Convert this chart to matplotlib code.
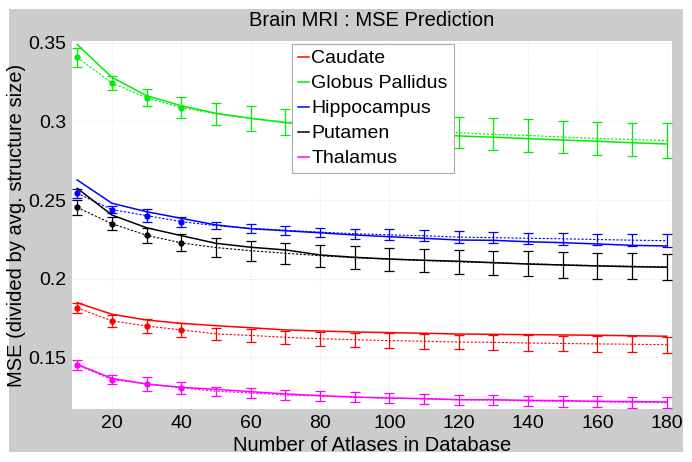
import matplotlib.pyplot as plt
from matplotlib.patches import Rectangle

plt.rcParams['font.family'] = ['Liberation Sans', 'DejaVu Sans']

atlases = [10, 20, 30, 40, 50, 60, 70, 80, 90, 100, 110, 120, 130, 140, 150, 160, 170, 180]

names = ['Caudate', 'Globus Pallidus', 'Hippocampus', 'Putamen', 'Thalamus']
colors = ['#ff0000', '#00ee00', '#0000ff', '#000000', '#ff00ff']

# predicted curves (solid)
pred_caudate = [0.1847, 0.1774, 0.1737, 0.1716, 0.1701, 0.1688, 0.1674, 0.1667, 0.1661,
                0.1657, 0.1653, 0.1648, 0.1646, 0.1644, 0.1642, 0.1640, 0.1637, 0.1634]
pred_globus = [0.3490, 0.3281, 0.3164, 0.3100, 0.3052, 0.3020, 0.2993, 0.2972, 0.2953,
               0.2938, 0.2922, 0.2908, 0.2900, 0.2891, 0.2882, 0.2874, 0.2865, 0.2857]
pred_hippo = [0.2628, 0.2480, 0.2426, 0.2384, 0.2342, 0.2318, 0.2305, 0.2292, 0.2278,
              0.2267, 0.2257, 0.2246, 0.2244, 0.2235, 0.2229, 0.2221, 0.2212, 0.2208]
pred_putamen = [0.2575, 0.2405, 0.2324, 0.2274, 0.2225, 0.2200, 0.2183, 0.2151, 0.2136,
                0.2125, 0.2117, 0.2111, 0.2102, 0.2093, 0.2087, 0.2081, 0.2076, 0.2073]
pred_thalamus = [0.1455, 0.1366, 0.1330, 0.1309, 0.1296, 0.1281, 0.1267, 0.1256, 0.1247,
                 0.1241, 0.1237, 0.1230, 0.1230, 0.1226, 0.1224, 0.1220, 0.1218, 0.1216]

# measured means (dotted) and error bars
mean_caudate = [0.1814, 0.1732, 0.1699, 0.1674, 0.1649, 0.1639, 0.1627, 0.1618, 0.1612,
                0.1606, 0.1602, 0.1597, 0.1595, 0.1591, 0.1588, 0.1585, 0.1583, 0.1580]
mean_globus = [0.3408, 0.3245, 0.3151, 0.3088, 0.3048, 0.3020, 0.2997, 0.2978, 0.2962,
               0.2948, 0.2938, 0.2929, 0.2918, 0.2911, 0.2901, 0.2892, 0.2885, 0.2879]
mean_hippo = [0.2543, 0.2440, 0.2401, 0.2363, 0.2337, 0.2320, 0.2308, 0.2296, 0.2286,
              0.2279, 0.2273, 0.2265, 0.2261, 0.2257, 0.2254, 0.2249, 0.2245, 0.2242]
mean_putamen = [0.2453, 0.2350, 0.2276, 0.2228, 0.2198, 0.2178, 0.2162, 0.2146, 0.2133,
                0.2124, 0.2116, 0.2107, 0.2101, 0.2095, 0.2088, 0.2083, 0.2079, 0.2074]
mean_thalamus = [0.1451, 0.1358, 0.1331, 0.1305, 0.1284, 0.1273, 0.1260, 0.1254, 0.1246,
                 0.1240, 0.1235, 0.1230, 0.1228, 0.1222, 0.1220, 0.1217, 0.1214, 0.1211]

err_caudate = [0.0032, 0.0037, 0.0043, 0.0042, 0.0039, 0.0041, 0.0042, 0.0045, 0.0045,
               0.0047, 0.0047, 0.0047, 0.0049, 0.0049, 0.0050, 0.0051, 0.0051, 0.0051]
err_globus = [0.0061, 0.0045, 0.0055, 0.0066, 0.0072, 0.0078, 0.0083, 0.0088, 0.0091,
              0.0094, 0.0097, 0.0100, 0.0101, 0.0103, 0.0104, 0.0106, 0.0107, 0.0109]
err_hippo = [0.0030, 0.0023, 0.0043, 0.0032, 0.0023, 0.0028, 0.0030, 0.0029, 0.0033,
             0.0035, 0.0035, 0.0036, 0.0036, 0.0036, 0.0037, 0.0037, 0.0039, 0.0040]
err_putamen = [0.0045, 0.0042, 0.0048, 0.0054, 0.0062, 0.0064, 0.0068, 0.0070, 0.0073,
               0.0074, 0.0074, 0.0075, 0.0077, 0.0080, 0.0082, 0.0083, 0.0083, 0.0083]
err_thalamus = [0.0030, 0.0027, 0.0045, 0.0037, 0.0030, 0.0030, 0.0032, 0.0032, 0.0033,
                0.0033, 0.0032, 0.0033, 0.0034, 0.0034, 0.0034, 0.0035, 0.0035, 0.0036]

preds = [pred_caudate, pred_globus, pred_hippo, pred_putamen, pred_thalamus]
means = [mean_caudate, mean_globus, mean_hippo, mean_putamen, mean_thalamus]
errs = [err_caudate, err_globus, err_hippo, err_putamen, err_thalamus]

fig = plt.figure(figsize=(6.92, 4.62), dpi=100, facecolor='white')
fig.patches.append(Rectangle((9 / 692, 1 - 452 / 462), 674 / 692, 443 / 462,
                             transform=fig.transFigure, facecolor='#cccccc',
                             edgecolor='none', zorder=-10))
ax = fig.add_axes([72 / 692, 1 - 409 / 462, 600 / 692, 368 / 462])

handles = []
for name, col, p, m, e in zip(names, colors, preds, means, errs):
    h, = ax.plot(atlases, p, '-', color=col, lw=1.1, label=name, zorder=3)
    handles.append(h)
    ax.errorbar(atlases, m, yerr=e, fmt='none', ecolor=col, elinewidth=0.9,
                capsize=3.3, capthick=0.9, zorder=2)
    ax.plot(atlases, m, linestyle=(0, (2, 1.5)), color=col, lw=0.8, marker='.',
            markersize=7, markevery=[0, 1, 2, 3], zorder=3)

ax.set_xlim(8.5, 181.5)
ax.set_ylim(0.1171, 0.3512)
ax.set_xticks(range(20, 181, 20))
ax.set_yticks([0.15, 0.2, 0.25, 0.3, 0.35])
ax.set_yticklabels(['0.15', '0.2', '0.25', '0.3', '0.35'])
ax.tick_params(labelsize=14, length=0, pad=4)
ax.grid(True, color='#e8e8e8', linestyle=':', linewidth=0.8)
for s in ax.spines.values():
    s.set_visible(False)

ax.set_title('Brain MRI : MSE Prediction', fontsize=14.5, pad=11)
ax.set_xlabel('Number of Atlases in Database', fontsize=14.5, labelpad=3.5)
ax.set_ylabel('MSE (divided by avg. structure size)', fontsize=14.5, labelpad=2)

leg = ax.legend(handles=handles, loc='upper left', bbox_to_anchor=(0.3667, 0.992),
                fontsize=14, handlelength=0.55, handletextpad=0.15,
                borderpad=0.3, labelspacing=0.38, fancybox=False, framealpha=1,
                edgecolor='#aaaaaa', borderaxespad=0)
leg.get_frame().set_linewidth(0.8)

fig.savefig('out.png', dpi=100, facecolor=fig.get_facecolor())
